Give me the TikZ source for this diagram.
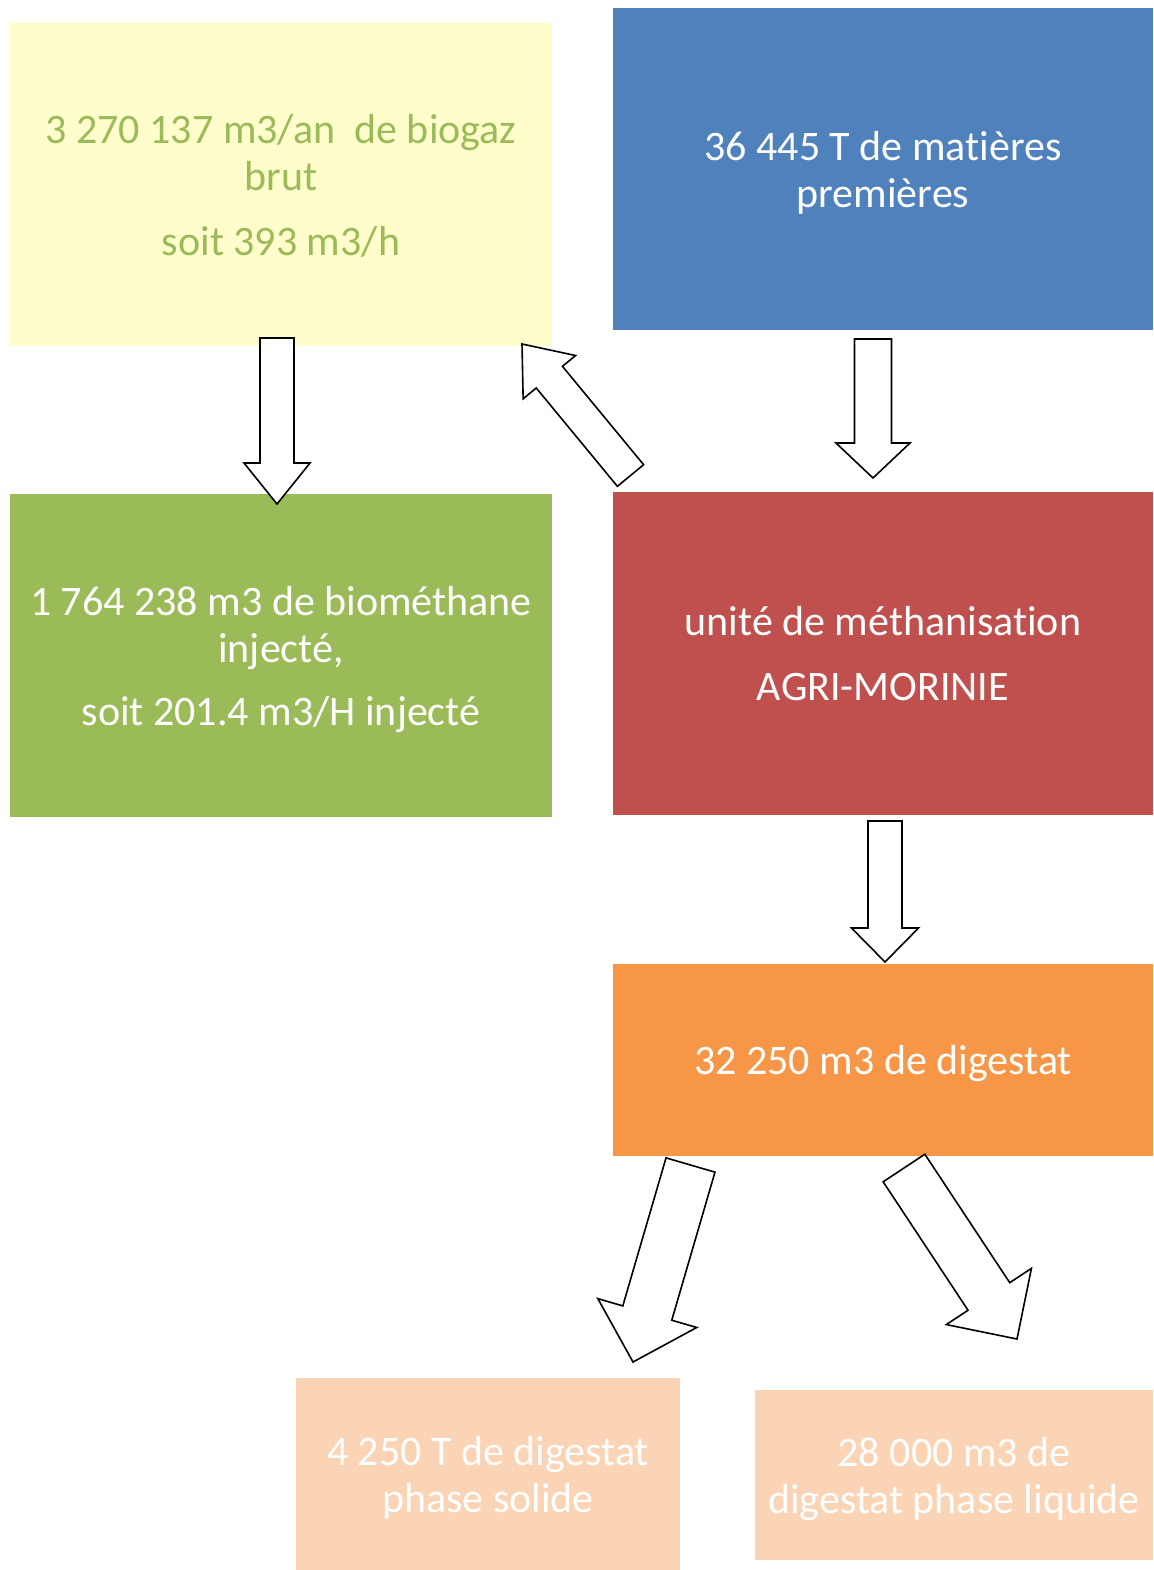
\documentclass[tikz,border=0pt]{standalone}
\usepackage{fontspec}
\setmainfont{Carlito}[Ligatures=NoCommon, Contextuals=NoAlternate]
\usetikzlibrary{calc}

\definecolor{jaune}{HTML}{FFFDCC}
\definecolor{bleu}{HTML}{4F81BD}
\definecolor{vert}{HTML}{9BBB59}
\definecolor{rouge}{HTML}{C0504D}
\definecolor{orange}{HTML}{F79646}
\definecolor{peche}{HTML}{FAD4B5}

% block arrow: from, to, shaft half width, head half width, head length
\newcommand{\flowarrow}[5]{%
    \coordinate (h) at ($(#2)!#5!(#1)$);
    \draw[bigarrow] ($(#1)!#3!90:(#2)$) -- ($(h)!#3!-90:(#1)$) -- ($(h)!#4!-90:(#1)$)
        -- (#2) -- ($(h)!#4!90:(#1)$) -- ($(h)!#3!90:(#1)$) -- ($(#1)!#3!-90:(#2)$) -- cycle;
}

\begin{document}
\begin{tikzpicture}[x=0.5pt, y=-0.5pt,
    box/.style={rectangle, inner sep=0pt, align=center, text=white, text depth=0pt,
        font=\fontsize{21}{23.5}\selectfont},
    bigarrow/.style={draw=black, fill=white, line width=0.8pt, line join=miter}]
    \useasboundingbox (0,0) rectangle (1153,1570);

    \node[box, fill=jaune, text=vert, minimum width=271pt, minimum height=161.5pt] at (281, 184.5) (biogaz)
        {3 270 137 m3/an\ \ de biogaz\\ brut\\[9pt] soit 393 m3/h};
    \node[box, fill=bleu, minimum width=270pt, minimum height=161pt] at (883, 169) (matieres)
        {36 445 T de mat\kern0pt ières\\ premières};
    \node[box, fill=vert, minimum width=271pt, minimum height=161.5pt] at (281, 655.5) (biomethane)
        {1 764 238 m3 de biométhane\\ injecté,\\[8pt] soit 201.4 m3/H injecté};
    \node[box, fill=rouge, minimum width=270pt, minimum height=161.5pt] at (883, 653.5) (unite)
        {unité de méthanisat\kern0pt ion\\[9pt] AGRI-MORINIE};
    \node[box, fill=orange, minimum width=270pt, minimum height=96pt] at (883, 1060) (digestat)
        {32 250 m3 de digestat};
    \node[box, fill=peche, minimum width=192pt, minimum height=96pt] at (488, 1474) (solide)
        {4 250 T de digestat\\ phase solide};
    \node[box, fill=peche, minimum width=199pt, minimum height=85pt] at (954, 1475) (liquide)
        {28 000 m3 de\\ digestat phase liquide};

    % arrow ends
    \coordinate (a1) at (277, 338);   \coordinate (b1) at (277, 504);
    \coordinate (a2) at (873, 339);   \coordinate (b2) at (873, 478);
    \coordinate (a3) at (630.5, 475.5); \coordinate (b3) at (522, 344);
    \coordinate (a4) at (690.5, 1165); \coordinate (b4) at (633, 1362);
    \coordinate (a5) at (904, 1168);  \coordinate (b5) at (1017, 1339);
    \coordinate (a6) at (885, 821);   \coordinate (b6) at (885, 962);

    \flowarrow{a1}{b1}{8.5pt}{16.5pt}{20.5pt}
    \flowarrow{a2}{b2}{9.25pt}{18.5pt}{17.5pt}
    \flowarrow{a3}{b3}{8.5pt}{17pt}{21.5pt}
    \flowarrow{a4}{b4}{12.75pt}{25.75pt}{25.5pt}
    \flowarrow{a5}{b5}{12.5pt}{25.5pt}{25.5pt}
    \flowarrow{a6}{b6}{8.5pt}{16.75pt}{17pt}
\end{tikzpicture}
\end{document}
